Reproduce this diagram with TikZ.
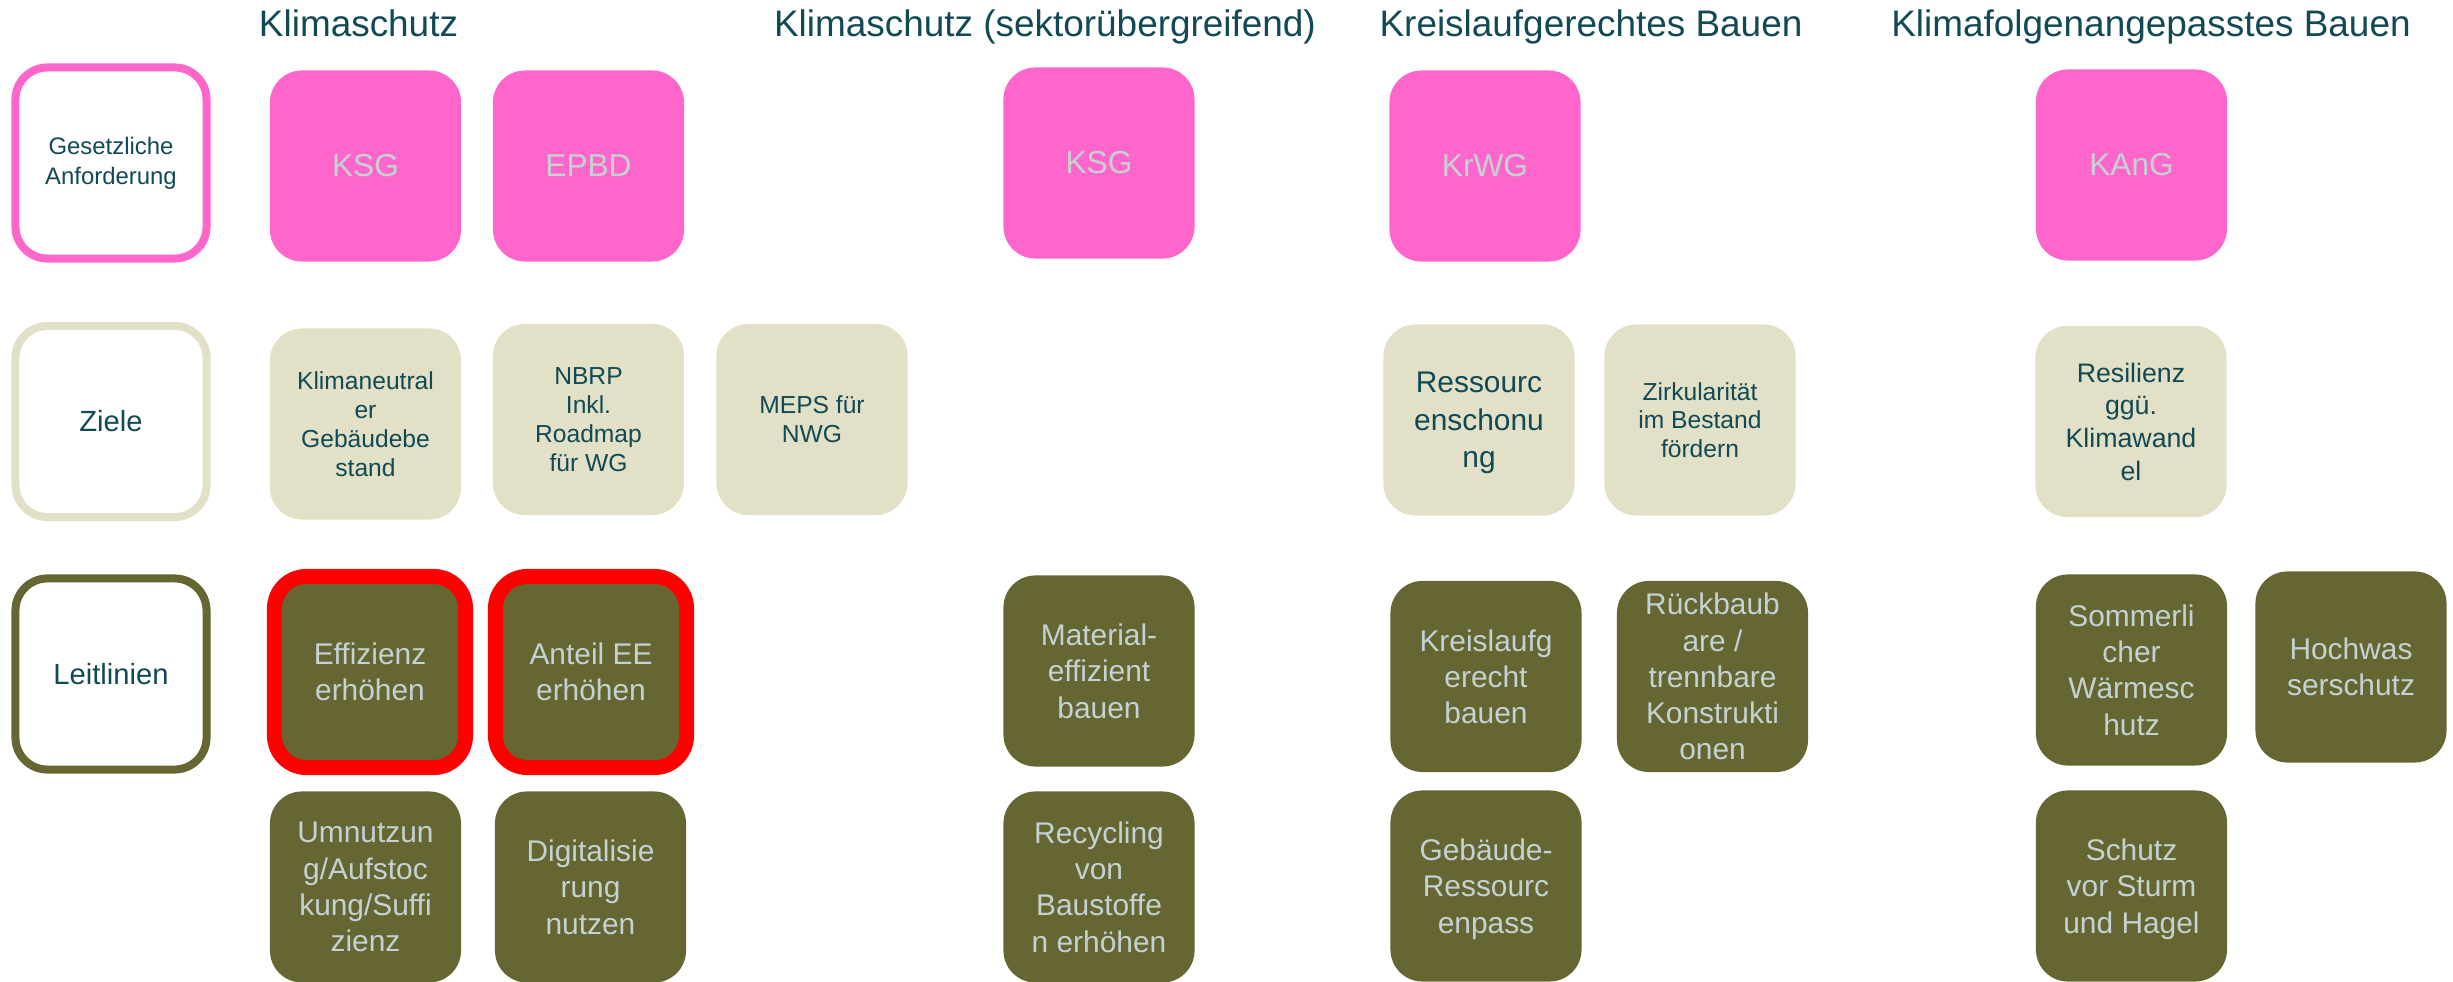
\documentclass[tikz,border=0pt]{standalone}
\usepackage{fontspec}
\setmainfont{Liberation Sans}
\usepackage{xcolor}
\usepackage{tikz}
\usetikzlibrary{positioning}
\definecolor{ink}{HTML}{114A55}
\definecolor{rosa}{HTML}{FF66CC}
\definecolor{sand}{HTML}{E2E0C6}
\definecolor{olive}{HTML}{666633}
\definecolor{pale}{HTML}{C4D2D2}
\definecolor{alarm}{HTML}{FF0000}
\tikzset{
  tile/.style={rounded corners=0.32cm, minimum width=1.91cm, minimum height=1.91cm, inner sep=0pt, align=center},
  law/.style={tile, fill=rosa, text=pale, font=\fontsize{9}{10.8}\selectfont},
  goal/.style={tile, fill=sand, text=ink, font=\fontsize{7}{8.2}\selectfont, text depth=0pt},
  guide/.style={tile, fill=olive, text=pale, font=\fontsize{8.5}{10.3}\selectfont, text depth=0pt},
  hot/.style={guide, draw=alarm, line width=0.15cm},
  rowbox/.style={tile, fill=white, line width=0.08cm, text=ink, font=\fontsize{8.3}{10}\selectfont},
  head/.style={text=ink, font=\fontsize{10.5}{12.6}\selectfont, anchor=base}
}

\begin{document}
\begin{tikzpicture}[x=0.01cm, y=-0.01cm]
\useasboundingbox (0,0) rectangle (2453,982);

\node[head] (h1) at (358.5,37) {Klimaschutz};
\node[head] (h2) at (1045,37) {Klimaschutz (sektorübergreifend)};
\node[head] (h3) at (1591,37) {Kreislaufgerechtes Bauen};
\node[head] (h4) at (2151,37) {Klimafolgenangepasstes Bauen};

\node[rowbox, draw=rosa, font=\fontsize{6.8}{8.5}\selectfont] (gesetz) at (111,163) {Gesetzliche\\Anforderung};
\node[rowbox, draw=sand] (ziele) at (111,421.5) {Ziele};
\node[rowbox, draw=olive] (leit) at (111,674) {Leitlinien};

\node[law] (ksg) at (365.5,166) {KSG};
\node[law] (epbd) at (588.5,166) {EPBD};
\node[law] (ksgs) at (1099,163) {KSG};
\node[law] (krwg) at (1485,166) {KrWG};
\node[law] (kang) at (2131.5,165) {KAnG};

\node[goal] (neutral) at (365.5,424) {Klimaneutral\\er\\Gebäudebe\\stand};
\node[goal] (nbrp) at (588.5,419.5) {NBRP\\Inkl.\\Roadmap\\für WG};
\node[goal] (meps) at (812,419.5) {MEPS für\\NWG};
\node[goal, font=\fontsize{8.5}{10.7}\selectfont] (schonung) at (1479,420) {Ressourc\\enschonu\\ng};
\node[goal] (zirk) at (1700,420) {Zirkularität\\im Bestand\\fördern};
\node[goal, font=\fontsize{7.6}{9.3}\selectfont] (resil) at (2131,421.5) {Resilienz\\ggü.\\Klimawand\\el};

\node[hot] (eff) at (370,672) {Effizienz\\erhöhen};
\node[hot] (ee) at (591,672) {Anteil EE\\erhöhen};
\node[guide] (mat) at (1099,671) {Material-\\effizient\\bauen};
\node[guide] (kreis) at (1486,676.5) {Kreislaufg\\erecht\\bauen};
\node[guide] (rueck) at (1712.5,676.5) {Rückbaub\\are /\\trennbare\\Konstrukti\\onen};
\node[guide] (sommer) at (2131.5,670) {Sommerli\\cher\\Wärmesc\\hutz};
\node[guide] (hoch) at (2351,667) {Hochwas\\serschutz};

\node[guide] (umnutz) at (365.5,887) {Umnutzun\\g/Aufstoc\\kung/Suffi\\zienz};
\node[guide] (digital) at (590.5,887) {Digitalisie\\rung\\nutzen};
\node[guide] (recycl) at (1099,887) {Recycling\\von\\Baustoffe\\n erhöhen};
\node[guide] (pass) at (1486,886) {Gebäude-\\Ressourc\\enpass};
\node[guide] (sturm) at (2131.5,886) {Schutz\\vor Sturm\\und Hagel};
\end{tikzpicture}
\end{document}
